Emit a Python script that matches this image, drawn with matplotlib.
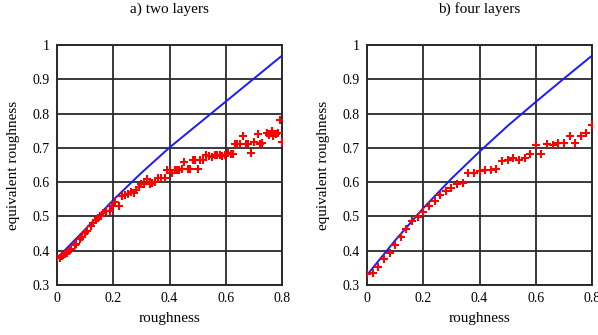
import matplotlib
matplotlib.use("Agg")
import matplotlib.pyplot as plt

titles = ["a) two layers", "b) four layers"]
xlabel = "roughness"
ylabel = "equivalent roughness"
xticks = [0, 0.2, 0.4, 0.6, 0.8]
xticklabels = ["0", "0.2", "0.4", "0.6", "0.8"]
yticks = [0.3, 0.4, 0.5, 0.6, 0.7, 0.8, 0.9, 1.0]
yticklabels = ["0.3", "0.4", "0.5", "0.6", "0.7", "0.8", "0.9", "1"]

line_x = [0.0, 0.1, 0.2, 0.3, 0.4, 0.5, 0.6, 0.7, 0.8]
line_a = [0.378, 0.462, 0.548, 0.627, 0.701, 0.768, 0.835, 0.902, 0.969]
line_b = [0.329, 0.430, 0.524, 0.610, 0.689, 0.764, 0.834, 0.902, 0.969]

pts_a_x = [0.000, 0.010, 0.019, 0.028, 0.036, 0.043, 0.051, 0.063, 0.069, 0.081,
           0.090, 0.099, 0.108, 0.120, 0.129, 0.139, 0.147, 0.156, 0.163, 0.175,
           0.187, 0.195, 0.207, 0.219, 0.231, 0.243, 0.252, 0.263, 0.273, 0.282,
           0.291, 0.299, 0.309, 0.321, 0.330, 0.339, 0.347, 0.359, 0.368, 0.383,
           0.390, 0.401, 0.410, 0.419, 0.426, 0.434, 0.443, 0.452, 0.464, 0.474,
           0.482, 0.490, 0.500, 0.510, 0.518, 0.530, 0.542, 0.551, 0.560, 0.569,
           0.578, 0.586, 0.596, 0.608, 0.617, 0.626, 0.632, 0.641, 0.650, 0.661,
           0.673, 0.679, 0.691, 0.701, 0.713, 0.721, 0.730, 0.745, 0.754, 0.763,
           0.769, 0.778, 0.787, 0.793, 0.801]
pts_a_y = [0.378, 0.380, 0.385, 0.389, 0.394, 0.399, 0.405, 0.417, 0.421, 0.433,
           0.439, 0.453, 0.458, 0.472, 0.480, 0.490, 0.494, 0.502, 0.509, 0.517,
           0.516, 0.530, 0.543, 0.530, 0.560, 0.562, 0.564, 0.572, 0.569, 0.577,
           0.587, 0.594, 0.594, 0.609, 0.594, 0.598, 0.601, 0.611, 0.611, 0.611,
           0.635, 0.635, 0.628, 0.635, 0.635, 0.635, 0.637, 0.658, 0.637, 0.637,
           0.666, 0.666, 0.637, 0.666, 0.666, 0.679, 0.676, 0.672, 0.679, 0.679,
           0.679, 0.676, 0.679, 0.684, 0.682, 0.681, 0.710, 0.710, 0.710, 0.735,
           0.710, 0.710, 0.686, 0.718, 0.739, 0.710, 0.715, 0.742, 0.737, 0.750,
           0.734, 0.739, 0.742, 0.781, 0.718]

pts_b_x = [0.00, 0.02, 0.04, 0.06, 0.08, 0.10, 0.12, 0.14, 0.16, 0.18,
           0.20, 0.22, 0.24, 0.26, 0.28, 0.30, 0.32, 0.34, 0.36, 0.38,
           0.40, 0.42, 0.44, 0.46, 0.48, 0.50, 0.52, 0.54, 0.56, 0.58,
           0.60, 0.62, 0.64, 0.66, 0.68, 0.70, 0.72, 0.74, 0.76, 0.78, 0.80]
pts_b_y = [0.332, 0.334, 0.353, 0.376, 0.392, 0.417, 0.441, 0.463, 0.488, 0.499,
           0.514, 0.530, 0.546, 0.562, 0.575, 0.584, 0.594, 0.598, 0.626, 0.628,
           0.633, 0.635, 0.635, 0.637, 0.662, 0.666, 0.669, 0.664, 0.671, 0.681,
           0.708, 0.682, 0.711, 0.708, 0.713, 0.715, 0.735, 0.713, 0.734, 0.742, 0.766]

plt.rcParams['font.family'] = ['Liberation Serif', 'DejaVu Serif']
plt.rcParams['font.size'] = 10

fig = plt.figure(figsize=(5.98, 3.35), dpi=100)
W, H = 598, 335
rects = [(57, 45, 225, 240), (367, 45, 225, 240)]
data = [(line_a, pts_a_x, pts_a_y), (line_b, pts_b_x, pts_b_y)]

for (l, t, w, h), title, (ly, px, py) in zip(rects, titles, data):
    ax = fig.add_axes([l / W, 1 - (t + h) / H, w / W, h / H])
    ax.plot(line_x, ly, color='#1a1aff', lw=1.4, zorder=3)
    ax.plot(px, py, linestyle='none', marker='+', color='#ff0000',
            markersize=5.5, markeredgewidth=1.5, zorder=4)
    ax.set_xlim(0, 0.8)
    ax.set_ylim(0.3, 1.0)
    ax.set_xticks(xticks)
    ax.set_xticklabels(xticklabels)
    ax.set_yticks(yticks)
    ax.set_yticklabels(yticklabels)
    ax.grid(True, color='#2a2a2a', lw=1.3)
    ax.set_axisbelow(True)
    ax.tick_params(length=0, pad=5, labelsize=10)
    for s in ax.spines.values():
        s.set_color('#2a2a2a')
        s.set_linewidth(1.4)
    ax.set_title(title, fontsize=11, pad=23)
    ax.set_xlabel(xlabel, fontsize=11, labelpad=5)
    ax.set_ylabel(ylabel, fontsize=11, labelpad=9)

fig.savefig("out.png", dpi=100)
